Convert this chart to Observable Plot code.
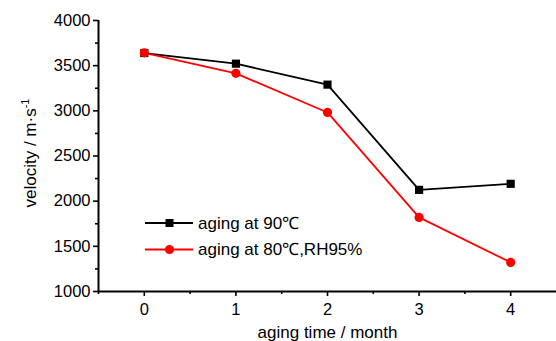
<!DOCTYPE html>
<html>
<head>
<meta charset="utf-8">
<script src="https://cdn.jsdelivr.net/npm/d3@7"></script>
<script src="https://cdn.jsdelivr.net/npm/@observablehq/plot@0.6"></script>
<style>
  html, body { margin: 0; padding: 0; background: #fff; }
  #chart { position: relative; width: 556px; height: 341px; }
</style>
</head>
<body>
<div id="chart"></div>
<script>
const months = [0, 1, 2, 3, 4];
const aging90 = [3640, 3522, 3290, 2125, 2192];
const aging80RH = [3642, 3415, 2982, 1820, 1322];
const seriesNames = ["aging at 90℃", "aging at 80℃,RH95%"];
const seriesColors = ["#000000", "#ff0000"];
const yMajor = [1000, 1500, 2000, 2500, 3000, 3500, 4000];
const yMinor = [1250, 1750, 2250, 2750, 3250, 3750];
const xMajor = [0, 1, 2, 3, 4];
const xMinor = [-0.5, 0.5, 1.5, 2.5, 3.5];

const data = [];
months.forEach((m, i) => {
  data.push({month: m, v: aging90[i], s: seriesNames[0]});
});
months.forEach((m, i) => {
  data.push({month: m, v: aging80RH[i], s: seriesNames[1]});
});

const font = "'Liberation Sans', Arial, sans-serif";

const plot = Plot.plot({
  width: 556,
  height: 341,
  marginTop: 20,
  marginBottom: 50,
  marginLeft: 98,
  marginRight: 0,
  style: {fontFamily: font, fontSize: "16.5px", color: "#000", background: "#fff"},
  x: {domain: [-0.5, 4.5]},
  y: {domain: [1000, 4000]},
  color: {domain: seriesNames, range: seriesColors},
  marks: [
    Plot.axisY({ticks: yMajor, tickSize: 5, tickPadding: 3, tickFormat: d => String(d), label: null, strokeWidth: 1.6}),
    Plot.axisY({ticks: yMinor, tickSize: 3, tickFormat: null, text: null, label: null, strokeWidth: 1.6}),
    Plot.axisX({ticks: xMajor, tickSize: 5, tickPadding: 7, tickFormat: d => String(d), label: null, strokeWidth: 1.6}),
    Plot.axisX({ticks: xMinor, tickSize: 3, text: null, label: null, strokeWidth: 1.6}),
    Plot.ruleX([-0.5], {stroke: "#000", strokeWidth: 2}),
    Plot.ruleY([1000], {stroke: "#000", strokeWidth: 2}),
    Plot.line(data, {x: "month", y: "v", stroke: "s", strokeWidth: 1.8}),
    Plot.dot(data.filter(d => d.s === seriesNames[0]), {x: "month", y: "v", fill: "s", symbol: "square", r: 4.6}),
    Plot.dot(data.filter(d => d.s === seriesNames[1]), {x: "month", y: "v", fill: "s", symbol: "circle", r: 4.6}),
    Plot.text(["aging time / month"], {frameAnchor: "bottom", dy: 46, fontSize: 17, fill: "#000"}),
    Plot.text(["velocity / m·s"], {frameAnchor: "left", textAnchor: "middle", dx: -68, dy: -3, rotate: -90, fontSize: 17, fill: "#000"})
  ]
});

document.getElementById("chart").appendChild(plot);

// superscript on y label
const svg = d3.select(plot);
svg.selectAll("text").filter(function() { return this.textContent === "velocity / m·s"; })
  .each(function() {
    const t = d3.select(this);
    t.text("velocity / m·s");
    t.append("tspan").attr("dy", "-0.6em").attr("font-size", "11px").text("-1");
  });

// legend
const lg = svg.append("g").attr("font-family", font).attr("font-size", 17).attr("text-anchor", "start");
seriesNames.forEach((name, i) => {
  const y = 223 + i * 26.5;
  const g = lg.append("g");
  g.append("line").attr("x1", 145).attr("x2", 193).attr("y1", y).attr("y2", y)
    .attr("stroke", seriesColors[i]).attr("stroke-width", 1.8);
  if (i === 0) {
    g.append("rect").attr("x", 165.5).attr("y", y - 4).attr("width", 8).attr("height", 8).attr("fill", seriesColors[i]);
  } else {
    g.append("circle").attr("cx", 169.5).attr("cy", y).attr("r", 4.6).attr("fill", seriesColors[i]);
  }
  g.append("text").attr("x", 198).attr("y", y).attr("dy", "0.35em").attr("text-anchor", "start").attr("fill", "#000").text(name);
});
</script>
</body>
</html>
